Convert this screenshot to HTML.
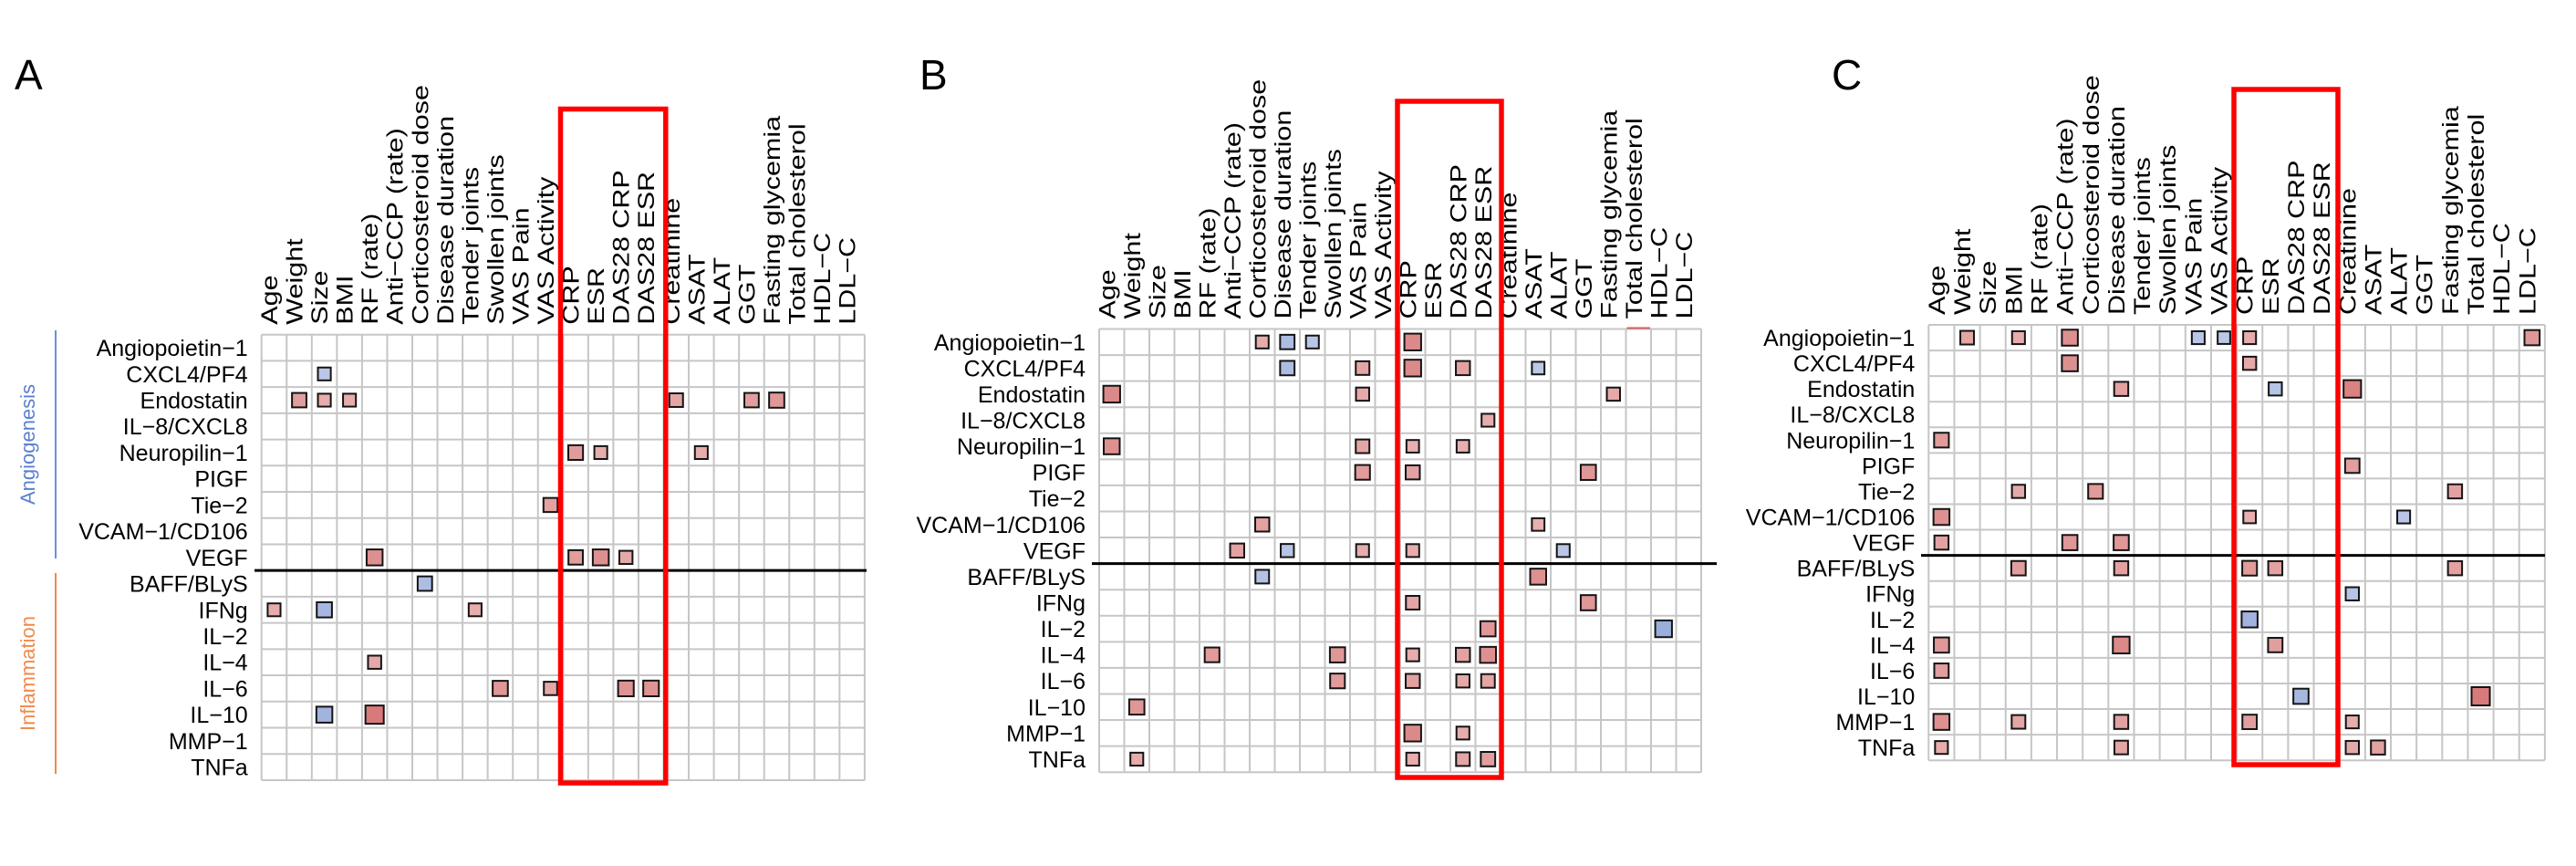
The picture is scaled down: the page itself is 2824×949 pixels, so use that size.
<!DOCTYPE html>
<html><head><meta charset="utf-8"><style>
html,body{margin:0;padding:0;background:#fff;}
svg{display:block;font-family:"Liberation Sans",Arial,sans-serif;}
</style></head><body>
<svg id="fig" width="2824" height="949" viewBox="0 0 2824 949" xmlns="http://www.w3.org/2000/svg">
<text x="16" y="98" font-size="46">A</text>
<text x="1008" y="98" font-size="46">B</text>
<text x="2008" y="98" font-size="46">C</text>
<line x1="61" y1="362" x2="61" y2="612" stroke="#6f8fd8" stroke-width="2"/>
<text transform="translate(38,487) rotate(-90)" text-anchor="middle" font-size="22" fill="#5b7fd0">Angiogenesis</text>
<line x1="61" y1="628" x2="61" y2="848" stroke="#f08a4b" stroke-width="2"/>
<text transform="translate(38,738) rotate(-90)" text-anchor="middle" font-size="22" fill="#f08a4b">Inflammation</text>
</svg>
<script>
const rowLabels = ["Angiopoietin\u22121","CXCL4/PF4","Endostatin","IL\u22128/CXCL8","Neuropilin\u22121","PIGF","Tie\u22122","VCAM\u22121/CD106","VEGF","BAFF/BLyS","IFNg","IL\u22122","IL\u22124","IL\u22126","IL\u221210","MMP\u22121","TNFa"];
const colLabels = ["Age","Weight","Size","BMI","RF (rate)","Anti\u2212CCP (rate)","Corticosteroid dose","Disease duration","Tender joints","Swollen joints","VAS Pain","VAS Activity","CRP","ESR","DAS28 CRP","DAS28 ESR","Creatinine","ASAT","ALAT","GGT","Fasting glycemia","Total cholesterol","HDL\u2212C","LDL\u2212C"];

const panelARows = [1,2,2,2,2,2,2,4,4,4,6,8,8,8,8,9,10,10,10,12,13,13,13,13,14,14];
const panelACols = [2,1,2,3,16,19,20,12,13,17,11,4,12,13,14,6,0,2,8,4,9,11,14,15,2,4];
const panelAValues = [-0.3,0.4,0.3,0.3,0.35,0.4,0.45,0.42,0.3,0.3,0.38,0.5,0.4,0.5,0.32,-0.4,0.3,-0.45,0.3,0.32,0.45,0.33,0.48,0.48,-0.5,0.65];

const panelBRows = [0,0,0,0,1,1,1,1,1,2,2,2,3,4,4,4,4,5,5,5,7,7,8,8,8,8,8,9,9,10,10,11,11,12,12,12,12,12,13,13,13,13,14,15,15,16,16,16,16];
const panelBCols = [6,7,8,12,7,10,12,14,17,0,10,20,15,0,10,12,14,10,12,19,6,17,5,7,10,12,18,6,17,12,19,15,22,4,9,12,14,15,9,12,14,15,1,12,14,1,12,14,15];
const panelBValues = [0.3,-0.4,-0.3,0.55,-0.4,0.35,0.55,0.38,-0.28,0.55,0.32,0.32,0.3,0.5,0.35,0.28,0.28,0.42,0.38,0.45,0.38,0.28,0.38,-0.32,0.3,0.3,-0.3,-0.35,0.5,0.35,0.45,0.45,-0.55,0.42,0.45,0.3,0.38,0.5,0.42,0.38,0.32,0.35,0.45,0.55,0.3,0.3,0.3,0.35,0.4];

const panelCRows = [0,0,0,0,0,0,0,1,1,2,2,2,4,5,6,6,6,7,7,7,8,8,8,9,9,9,9,9,10,11,12,12,12,13,14,14,15,15,15,15,15,16,16,16,16];
const panelCCols = [1,3,5,10,11,12,23,5,12,7,13,16,0,16,3,6,20,0,12,18,0,5,7,3,7,12,13,20,16,12,0,7,13,0,14,21,0,3,7,12,16,0,7,16,17];
const panelCValues = [0.35,0.3,0.5,-0.3,-0.28,0.3,0.45,0.5,0.32,0.38,-0.32,0.6,0.42,0.4,0.32,0.42,0.38,0.5,0.28,-0.3,0.38,0.45,0.45,0.4,0.38,0.42,0.38,0.38,-0.32,-0.5,0.45,0.55,0.4,0.4,-0.45,0.65,0.5,0.35,0.38,0.4,0.3,0.3,0.35,0.32,0.38];

const NS = "http://www.w3.org/2000/svg";
const svg = document.getElementById("fig");
function mk(tag, attrs){const e=document.createElementNS(NS,tag);for(const k in attrs)e.setAttribute(k,attrs[k]);svg.appendChild(e);return e;}

const panels = [
  {key:"a", left:286.7, top:366.7, cw:27.55, rh:28.72, rows:panelARows, cols:panelACols, vals:panelAValues, sepL:279, sepR:950, box:[614.5,119.5,729.8,858]},
  {key:"b", left:1205, top:360.5, cw:27.5, rh:28.57, rows:panelBRows, cols:panelBCols, vals:panelBValues, sepL:1197, sepR:1882, box:[1532,111,1646,852], chol:true},
  {key:"c", left:2114.3, top:356, cw:28.15, rh:28.07, rows:panelCRows, cols:panelCCols, vals:panelCValues, sepL:2106, sepR:2790, box:[2449,98,2563,838]}
];

function xScale(p,c){return p.left + c*p.cw;}
function yScale(p,r){return p.top + r*p.rh;}
function sizeScale(v){return 9 + 17*Math.abs(v);}
function colorScale(v){
  const f = Math.min(1, 0.25 + Math.abs(v)*0.9);
  const base = v>=0 ? [208,96,96] : [120,146,208];
  const c = base.map(b=>Math.round(255 - (255-b)*f));
  return "rgb("+c.join(",")+")";
}

panels.forEach(p=>{
  const nR=rowLabels.length, nC=colLabels.length;
  const right=xScale(p,nC), bottom=yScale(p,nR);
  for(let c=0;c<=nC;c++){
    const l=mk("line",{x1:xScale(p,c),y1:p.top,x2:xScale(p,c),y2:bottom,stroke:"#c6c6c6","stroke-width":2});
    
    
  }
  for(let r=0;r<=nR;r++){
    const l=mk("line",{x1:p.left,y1:yScale(p,r),x2:right,y2:yScale(p,r),stroke:"#c6c6c6","stroke-width":2});
    
    
  }
  rowLabels.forEach((t,r)=>{
    const e=mk("text",{x:p.left-15,y:yScale(p,r)+p.rh/2+9,"text-anchor":"end","font-size":25});
    e.textContent=t;
    
    
  });
  colLabels.forEach((t,c)=>{
    const x=xScale(p,c)+p.cw/2+3.5, y=p.top-11;
    const e=mk("text",{x:0,y:0,"font-size":25,transform:"translate("+x+" "+y+") rotate(-90) scale(1.22 1)"});
    e.textContent=t;
    
    
  });
  if(p.chol){
    const d=mk("rect",{x:xScale(p,21)+1,y:p.top-2,width:p.cw-2,height:2,fill:"#d06060"});
    
    
  }
  p.vals.forEach((v,i)=>{
    const s=sizeScale(v);
    const cx=xScale(p,p.cols[i])+p.cw/2, cy=yScale(p,p.rows[i])+p.rh/2;
    const m=mk("rect",{x:cx-s/2,y:cy-s/2,width:s,height:s,fill:colorScale(v),stroke:"#141414","stroke-width":2});
    
    
  });
  const sep=mk("line",{x1:p.sepL,y1:yScale(p,9),x2:p.sepR,y2:yScale(p,9),stroke:"#000","stroke-width":3});
  
  
  const b=p.box;
  const bx=mk("rect",{x:b[0],y:b[1],width:b[2]-b[0],height:b[3]-b[1],fill:"none",stroke:"#ff0000","stroke-width":5.5});
  
  
});
</script>
</body></html>
